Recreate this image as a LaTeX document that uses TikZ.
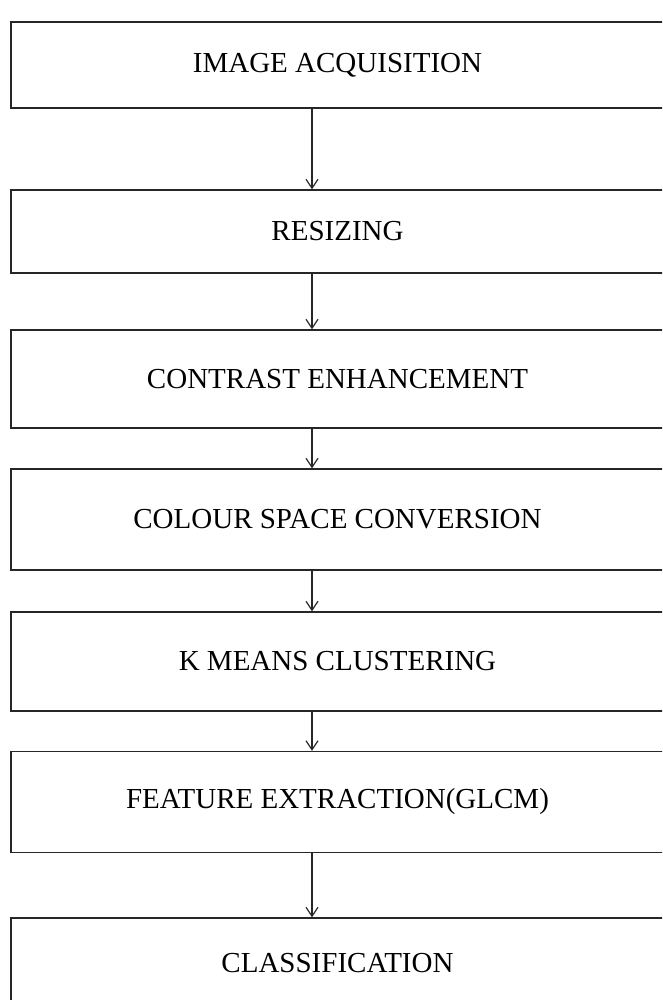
\documentclass[tikz,border=0pt]{standalone}
\usepackage{fontspec}
\setmainfont{Liberation Serif}
\usetikzlibrary{arrows.meta}
\begin{document}
\begin{tikzpicture}[x=1pt,y=-1pt,
  stepbox/.style={draw=black!85, line width=1.4pt, rectangle, minimum width=653pt, inner sep=0pt, font=\fontsize{29}{34}\selectfont},
  arr/.style={draw=black!85, line width=1.2pt, -{Straight Barb[length=9pt,width=12pt,line width=1.2pt]}}]
\useasboundingbox (0,0) rectangle (662,1000);
\fill[white] (0,0) rectangle (662,1000);
\clip (0,0) rectangle (662,1000);
\coordinate (ax) at (312,0);
\node[stepbox, minimum height=86pt] (b1) at (337.5,65) {IMAGE ACQUISITION};
\node[stepbox, minimum height=83pt] (b2) at (337.5,231.5) {RESIZING};
\node[stepbox, minimum height=98pt] (b3) at (337.5,379) {CONTRAST ENHANCEMENT};
\node[stepbox, minimum height=101pt] (b4) at (337.5,519.5) {COLOUR SPACE CONVERSION};
\node[stepbox, minimum height=99pt] (b5) at (337.5,661.5) {K MEANS CLUSTERING};
\node[stepbox, minimum height=101pt] (b6) at (337.5,802) {FEATURE EXTRACTION(GLCM)};
\node[stepbox, minimum height=90pt] (b7) at (337.5,963) {CLASSIFICATION};
\draw[arr] (b1.south -| ax) -- (b2.north -| ax);
\draw[arr] (b2.south -| ax) -- (b3.north -| ax);
\draw[arr] (b3.south -| ax) -- (b4.north -| ax);
\draw[arr] (b4.south -| ax) -- (b5.north -| ax);
\draw[arr] (b5.south -| ax) -- (b6.north -| ax);
\draw[arr] (b6.south -| ax) -- (b7.north -| ax);
\end{tikzpicture}
\end{document}
